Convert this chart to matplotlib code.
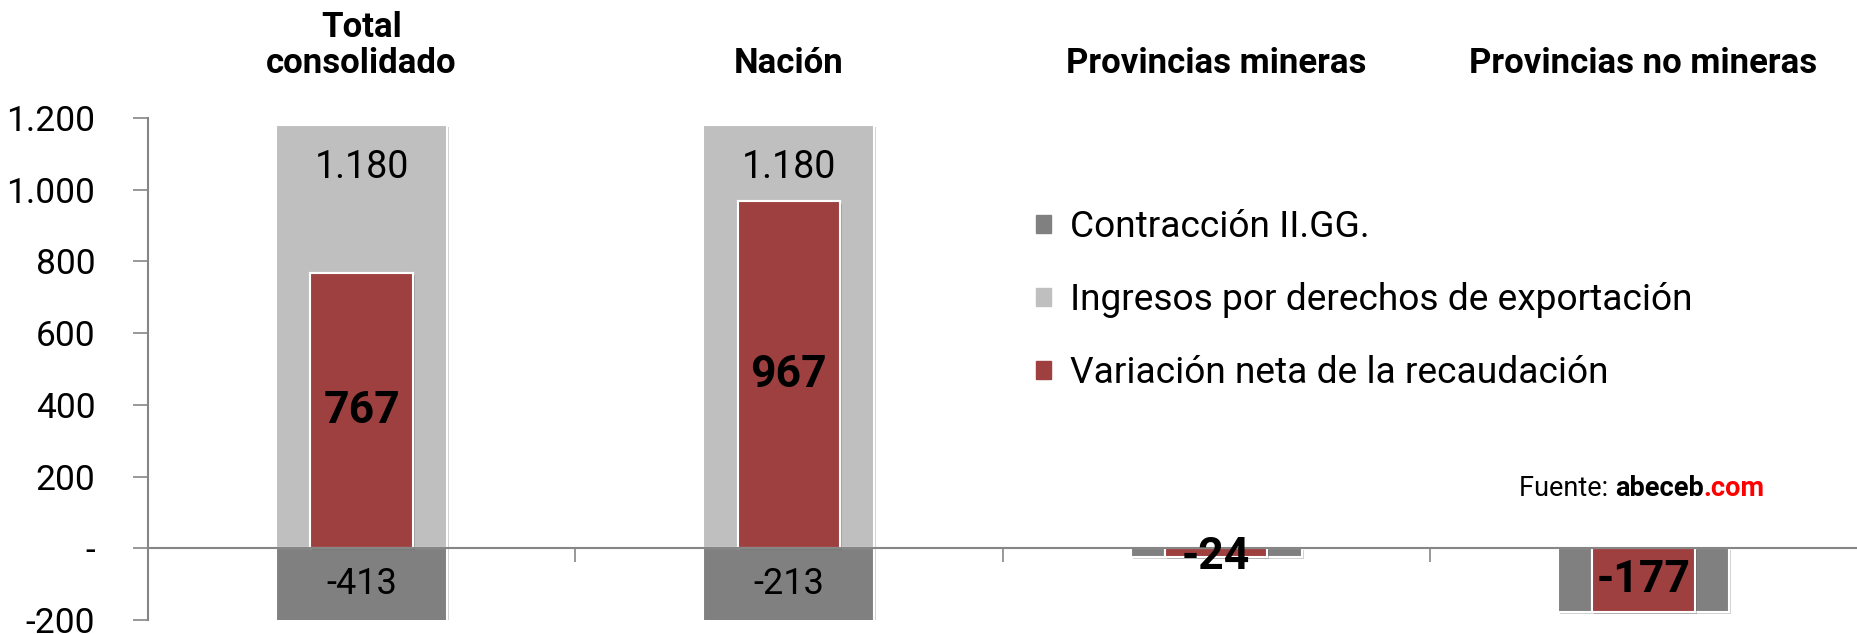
import matplotlib
matplotlib.use("Agg")
import matplotlib.pyplot as plt
import matplotlib.patheffects as pe
from matplotlib.patches import Patch
from matplotlib.offsetbox import TextArea, HPacker, AnchoredOffsetbox

plt.rcParams["font.family"] = ["Roboto", "DejaVu Sans"]

# %%
# Data (millions of pesos).

categories = ["Total\nconsolidado", "Nación", "Provincias mineras", "Provincias no mineras"]
contraccion = [-413, -213, -24, -177]
ingresos = [1180, 1180, 0, 0]
variacion = [767, 967, -24, -177]

series_names = [
    "Contracción II.GG.",
    "Ingresos por derechos de exportación",
    "Variación neta de la recaudación",
]
y_ticks = [-200, 0, 200, 400, 600, 800, 1000, 1200]

# %%
# Colours and helpers.

c_dark = "#808080"
c_light = "#bfbfbf"
c_red = "#9e4040"
y_min, y_max = -200, 1200


def fmt(v):
    return "-" if v == 0 else f"{v:,}".replace(",", ".")


shadow = [pe.withSimplePatchShadow(offset=(1.5, -1.5), shadow_rgbFace="k", alpha=0.18), pe.Normal()]

fig = plt.figure(figsize=(18.57, 6.34), dpi=100)
ax = fig.add_axes([0.0797, 0.022, 0.9203, 0.792])

x = range(len(categories))
wide, narrow = 0.40, 0.24

bars_light = ax.bar(x, ingresos, wide, color=c_light, edgecolor="white", linewidth=1.5, zorder=2)
bars_dark = ax.bar(x, contraccion, wide, color=c_dark, edgecolor="white", linewidth=1.5, zorder=2)
bars_red = ax.bar(x, variacion, narrow, color=c_red, edgecolor="white", linewidth=1.5, zorder=3)
for b in list(bars_light) + list(bars_dark) + list(bars_red):
    b.set_path_effects(shadow)

# %%
# Data labels.

for i, v in enumerate(ingresos):
    if v:
        ax.annotate(fmt(v), (i, v), xytext=(0, -17), textcoords="offset points",
                    ha="center", va="top", fontsize=27, zorder=5)
for i, (v, n) in enumerate(zip(contraccion, ingresos)):
    if n:
        ax.text(i, max(v, y_min) / 2, fmt(v), ha="center", va="center", fontsize=26, zorder=5)
for i, v in enumerate(variacion):
    y = v / 2 if abs(v) > 100 else v
    ax.text(i, y, fmt(v), ha="center", va="center", fontsize=32, fontweight="bold", zorder=5)

# %%
# Axes styling.

ax.set_xlim(-0.5, len(categories) - 0.5)
ax.set_ylim(y_min, y_max)
ax.set_yticks(y_ticks)
ax.set_yticklabels([fmt(t) for t in y_ticks])
ax.tick_params(axis="y", direction="out", length=11, width=1.2, color="#868686",
               labelsize=25.5, pad=27)
ax.set_xticks([0.5, 1.5, 2.5])
ax.set_xticklabels([])
ax.tick_params(axis="x", direction="out", length=10, width=1.2, color="#868686")
ax.spines["bottom"].set_position(("data", 0))
for s in ("bottom", "left"):
    ax.spines[s].set_color("#868686")
    ax.spines[s].set_linewidth(1.5)
ax.spines["bottom"].set_zorder(4)
ax.spines["top"].set_visible(False)
ax.spines["right"].set_visible(False)
ax.patch.set_visible(False)

for i, name in enumerate(categories):
    ax.text(i, 1.075, name, transform=ax.get_xaxis_transform(), ha="center", va="bottom",
            fontsize=25, fontweight="bold", linespacing=1.12)

handles = [Patch(color=c) for c in (c_dark, c_light, c_red)]
fig.legend(handles, series_names, loc="upper left", bbox_to_anchor=(0.558, 0.67),
           frameon=False, fontsize=26.7, handlelength=0.4, handleheight=0.4,
           handletextpad=0.5, labelspacing=1.0, borderpad=0, borderaxespad=0)

src = HPacker(children=[
    TextArea("Fuente: ", textprops=dict(fontsize=19.5)),
    TextArea("abeceb", textprops=dict(fontsize=19.5, fontweight="bold")),
    TextArea(".com", textprops=dict(fontsize=19.5, fontweight="bold", color="#ff0000")),
], align="baseline", pad=0, sep=0)
fig.add_artist(AnchoredOffsetbox(loc="center left", child=src, pad=0, frameon=False,
                                 bbox_to_anchor=(0.818, 0.229),
                                 bbox_transform=fig.transFigure, borderpad=0))

fig.savefig("out.png", dpi=100)
